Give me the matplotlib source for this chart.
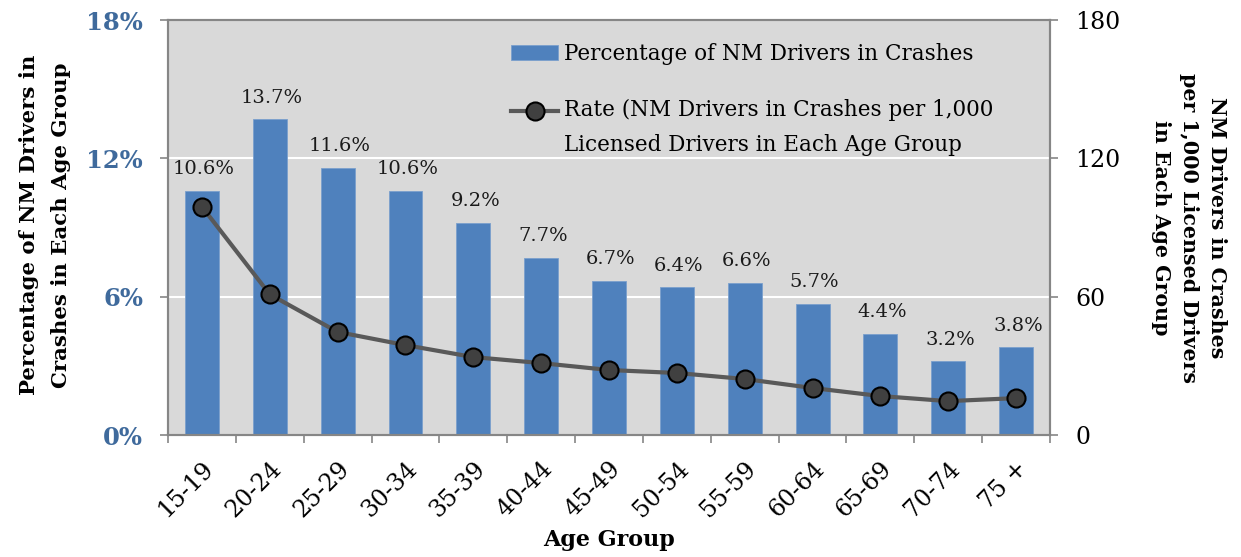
import matplotlib.pyplot as plt
import numpy as np
from matplotlib.legend_handler import HandlerLine2D

plt.rcParams['font.family'] = ['DejaVu Serif']

age_groups = ['15-19', '20-24', '25-29', '30-34', '35-39', '40-44', '45-49',
              '50-54', '55-59', '60-64', '65-69', '70-74', '75 +']
pct_in_crashes = [10.6, 13.7, 11.6, 10.6, 9.2, 7.7, 6.7, 6.4, 6.6, 5.7, 4.4, 3.2, 3.8]
rate_per_1000 = [99, 61, 44.7, 39, 33.8, 31.2, 28.2, 26.9, 24.3, 20.4, 16.9, 14.7, 16]

BAR_COLOR = '#4F81BD'
LINE_COLOR = '#595959'
AXIS_COLOR = '#868686'
TICK_BLUE = '#3F6A9C'


class FirstLineHandler(HandlerLine2D):
    # put the line handle next to the first text line, like Excel does
    def create_artists(self, legend, orig_handle, xdescent, ydescent,
                       width, height, fontsize, trans):
        shift = 0.8 * fontsize
        return super().create_artists(legend, orig_handle, xdescent,
                                      ydescent - 2 * shift, width, height,
                                      fontsize, trans)


fig = plt.figure(figsize=(12.41, 5.57), dpi=100)
ax = fig.add_axes([0.1354, 0.219, 0.7107, 0.745])
ax2 = ax.twinx()

x = np.arange(len(age_groups))
ax.set_facecolor('#D9D9D9')
bars = ax.bar(x, pct_in_crashes, width=0.5, color=BAR_COLOR, edgecolor='#7BA0CD',
              linewidth=0.6, zorder=2, label='Percentage of NM Drivers in Crashes')
for xi, v in zip(x, pct_in_crashes):
    ax.text(xi + 0.03, v + 0.55, f'{v:.1f}%', ha='center', va='bottom',
            fontsize=14, color='#1a1a1a', zorder=3)

line, = ax2.plot(x, rate_per_1000, color=LINE_COLOR, linewidth=3, marker='o',
                 markersize=13, markerfacecolor='#404040', markeredgecolor='black',
                 markeredgewidth=1.5, zorder=4,
                 label='Rate (NM Drivers in Crashes per 1,000\nLicensed Drivers in Each Age Group')

ax.set_xlim(-0.5, len(age_groups) - 0.5)
ax.set_ylim(0, 18)
ax2.set_ylim(0, 180)
ax.set_yticks([0, 6, 12, 18])
ax.set_yticklabels(['0%', '6%', '12%', '18%'])
ax2.set_yticks([0, 60, 120, 180])
ax.yaxis.grid(True, color='white', linewidth=1.5, zorder=0)
ax.set_axisbelow(True)

ax.set_xticks(x)
ax.set_xticklabels(age_groups, rotation=45, ha='right', rotation_mode='anchor',
                   fontsize=17)
ax.set_xticks(np.arange(len(age_groups) + 1) - 0.5, minor=True)
ax.tick_params(axis='x', which='major', length=0, pad=16)
ax.tick_params(axis='x', which='minor', length=6, color=AXIS_COLOR, width=1.2)
ax.tick_params(axis='y', length=6, color=AXIS_COLOR, width=1.2, labelsize=17.5,
               labelcolor=TICK_BLUE, pad=12)
for lab in ax.get_yticklabels():
    lab.set_fontweight('bold')
ax2.tick_params(axis='y', length=6, color=AXIS_COLOR, width=1.2, labelsize=17,
                pad=12)

for a in (ax, ax2):
    for s in a.spines.values():
        s.set_color(AXIS_COLOR)
        s.set_linewidth(1.5)

fig.text(609 / 1241, 1 - 540 / 557, 'Age Group', fontsize=16, fontweight='bold',
         ha='center', va='center')
fig.text(45 / 1241, 1 - 225 / 557, 'Percentage of NM Drivers in\nCrashes in Each Age Group',
         fontsize=15.3, fontweight='bold', rotation=90, ha='center', va='center',
         linespacing=1.7)
fig.text(1189 / 1241, 1 - 228 / 557,
         'NM Drivers in Crashes\nper 1,000 Licensed Drivers\nin Each Age Group',
         fontsize=14.8, fontweight='bold', rotation=270, ha='center', va='center',
         linespacing=1.5)

leg = ax2.legend([bars, line], [bars.get_label(), line.get_label()],
                 loc='upper left', bbox_to_anchor=(0.367, 0.992),
                 frameon=False, fontsize=15.5, handlelength=2.2, labelspacing=1.58,
                 handletextpad=0.25, handler_map={line: FirstLineHandler()})
leg.get_texts()[1].set_linespacing(1.75)

fig.savefig('out.png', dpi=100)
